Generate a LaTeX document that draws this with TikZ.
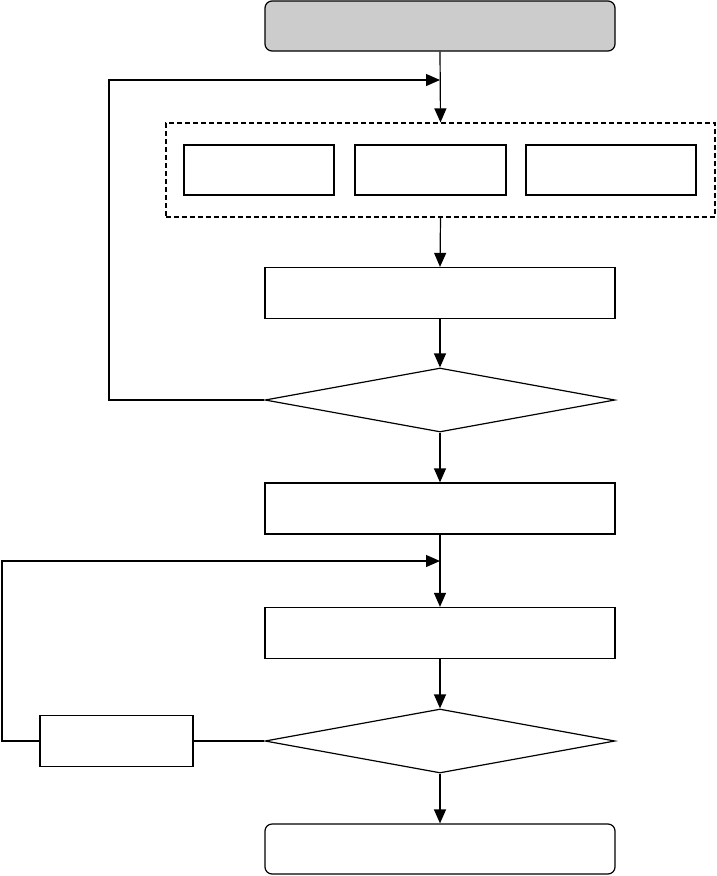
\documentclass[tikz,border=0pt]{standalone}
\usetikzlibrary{arrows.meta,shapes.geometric}
\definecolor{boxgray}{HTML}{CCCCCC}
\begin{document}
\begin{tikzpicture}[x=1pt,y=-1pt,
  line width=1.2pt,
  arr/.style={-{Triangle[length=14pt,width=12pt]}},
  procbox/.style={draw,rectangle,inner sep=0pt,minimum width=350pt,minimum height=51pt},
  roundbox/.style={procbox,rounded corners=7pt},
  subbox/.style={draw,rectangle,inner sep=0pt,minimum height=50pt,line width=1.6pt},
  decision/.style={draw,diamond,inner sep=0pt,minimum width=350pt,minimum height=64pt},
  groupbox/.style={draw,rectangle,inner sep=0pt,dash pattern=on 5pt off 3pt,line width=1.2pt}
]
\useasboundingbox (0,0) rectangle (716,876);
\node[roundbox,fill=boxgray,minimum height=50pt] (start) at (440,26) {};
\node[groupbox,minimum width=549pt,minimum height=94pt] (group) at (440.5,170) {};
\node[subbox,minimum width=150pt] (sa) at (259,170) {};
\node[subbox,minimum width=151pt] (sb) at (430.5,170) {};
\node[subbox,minimum width=170pt] (sc) at (611,170) {};
\node[procbox] (p1) at (440,293) {};
\node[decision] (d1) at (440,400) {};
\node[procbox] (p2) at (440,508.5) {};
\node[procbox] (p3) at (440,633) {};
\node[decision] (d2) at (440,741) {};
\node[procbox,minimum width=153pt] (lb) at (116.5,741) {};
\node[roundbox,minimum height=50pt] (fin) at (440,849) {};
\coordinate (m1) at (440,80);
\coordinate (l1) at (109,400);
\coordinate (m2) at (440,561);
\coordinate (l2) at (2,741);
\draw[arr] (start.south) -- (group.north);
\draw[arr] (d1.west) -- (l1) |- (m1);
\draw[arr] (group.south) -- (p1.north);
\draw[arr] (p1.south) -- (d1.north);
\draw[arr] (d1.south) -- (p2.north);
\draw[arr] (p2.south) -- (p3.north);
\draw[arr] (p3.south) -- (d2.north);
\draw (d2.west) -- (lb.east);
\draw[arr] (lb.west) -- (l2) |- (m2);
\draw[arr] (d2.south) -- (fin.north);
\end{tikzpicture}
\end{document}
